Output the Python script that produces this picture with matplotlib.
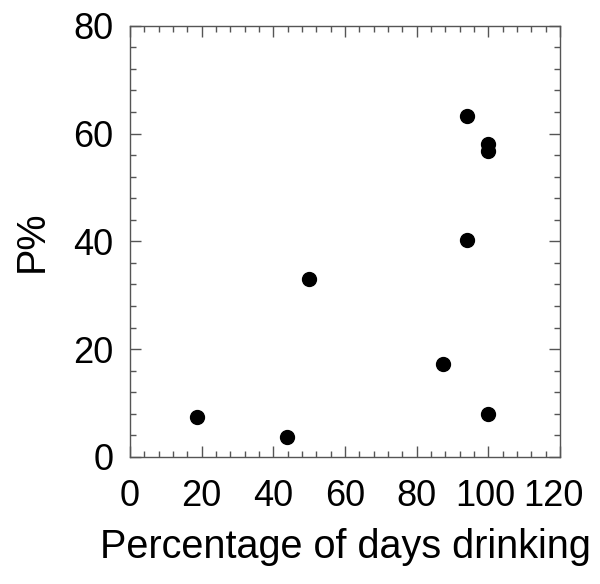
import matplotlib.pyplot as plt
from matplotlib.ticker import MultipleLocator
from matplotlib.transforms import ScaledTranslation

plt.rcParams['font.family'] = ['Liberation Sans', 'DejaVu Sans']

# Data
days_drinking = [18.8, 43.9, 50.0, 87.4, 94.0, 94.0, 100.0, 100.0, 100.0]
p_percent = [7.5, 3.7, 33.0, 17.3, 63.3, 40.3, 58.0, 56.8, 8.0]
x_ticks = [0, 20, 40, 60, 80, 100, 120]
y_ticks = [0, 20, 40, 60, 80]

fig = plt.figure(figsize=(6, 5.84), dpi=100)
ax = fig.add_axes([0.2167, 0.2175, 0.7166, 0.7385])

ax.plot(days_drinking, p_percent, 'o', color='black', markersize=10, linestyle='none')

ax.set_xlim(0, 120)
ax.set_ylim(0, 80)
ax.set_xticks(x_ticks, [str(t) for t in x_ticks])
ax.set_yticks(y_ticks, [str(t) for t in y_ticks])
ax.xaxis.set_minor_locator(MultipleLocator(4))
ax.yaxis.set_minor_locator(MultipleLocator(4))

spine_color = '#555555'
for s in ax.spines.values():
    s.set_color(spine_color)
    s.set_linewidth(1.0)

ax.tick_params(which='both', direction='in', top=True, right=True, color=spine_color, width=1.0)
ax.tick_params(which='major', length=8, labelsize=26)
ax.tick_params(which='minor', length=4)
ax.tick_params(axis='x', which='major', pad=16)
ax.tick_params(axis='y', which='major', pad=12)

# nudge the last two x labels left so "100" and "120" keep a gap
labels = ax.get_xticklabels()
for lab, dx in ((labels[-2], -2), (labels[-1], -5)):
    lab.set_transform(lab.get_transform() + ScaledTranslation(dx / 72, 0, fig.dpi_scale_trans))

ax.set_xlabel('Percentage of days drinking', fontsize=28.5, labelpad=10)
ax.set_ylabel('P%', fontsize=28.5, labelpad=16)

fig.savefig('out.png', dpi=100)
